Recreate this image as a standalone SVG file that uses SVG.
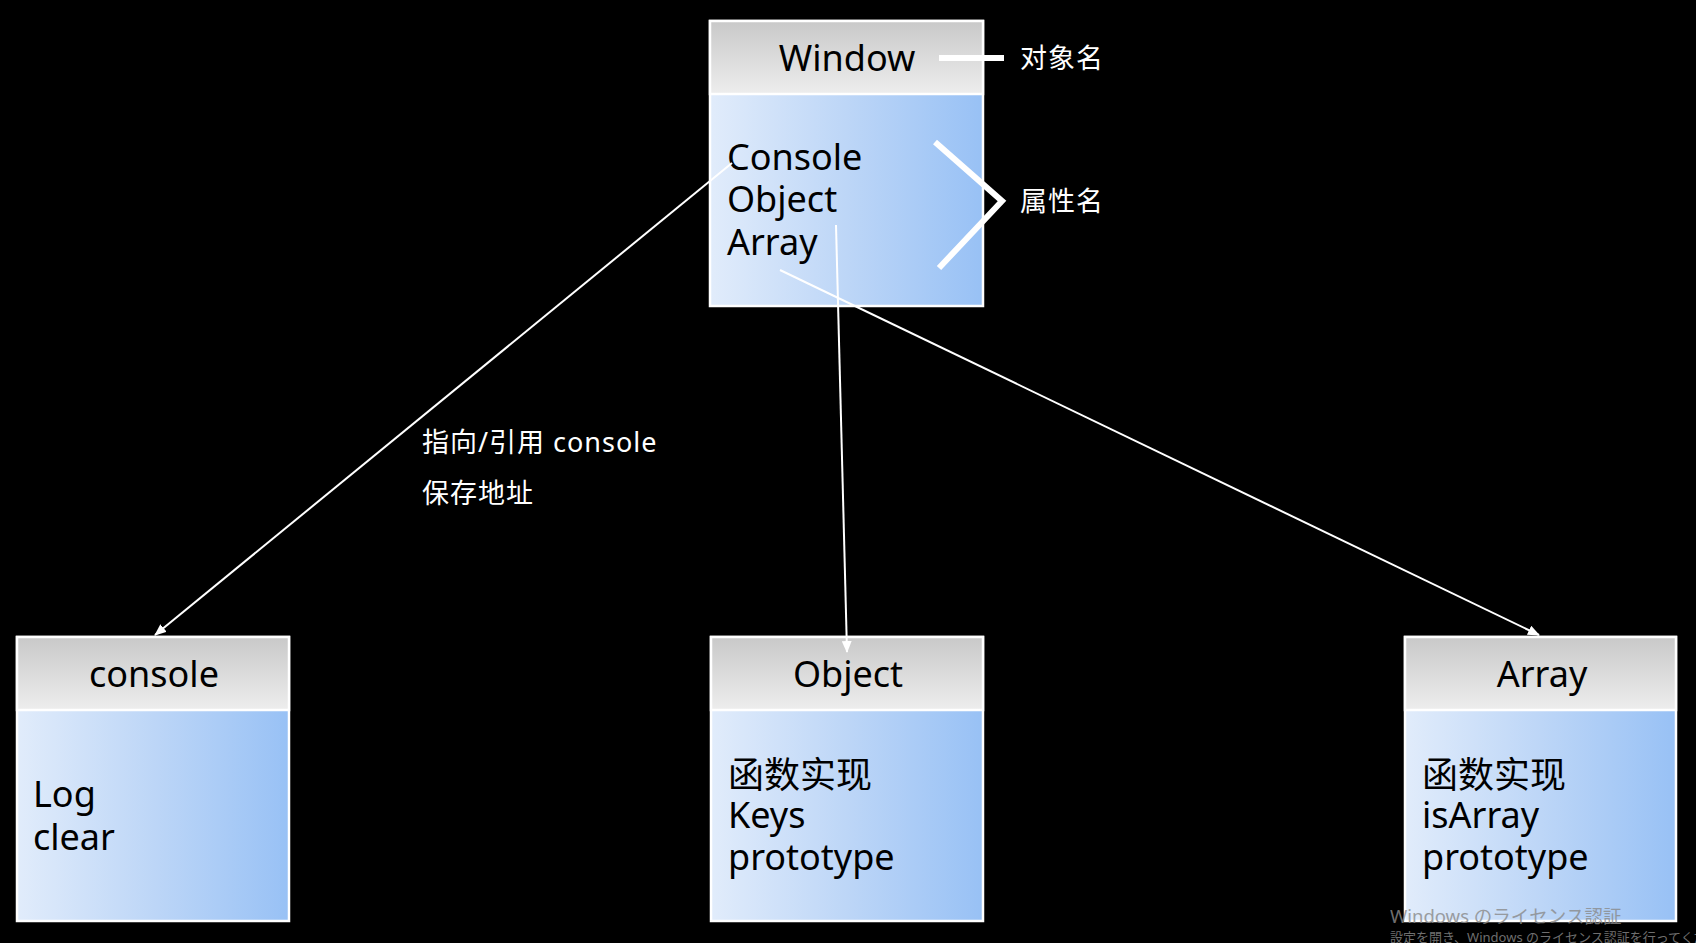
<svg xmlns="http://www.w3.org/2000/svg" width="1696" height="943" viewBox="0 0 1696 943">
<defs>
<linearGradient id="hdr" x1="0" y1="0" x2="0" y2="1"><stop offset="0" stop-color="#c9c9c9"/><stop offset="1" stop-color="#ededed"/></linearGradient>
<linearGradient id="body" x1="0" y1="0" x2="1" y2="0"><stop offset="0" stop-color="#e1ecfb"/><stop offset="0.5" stop-color="#bdd6f7"/><stop offset="1" stop-color="#98c1f5"/></linearGradient>
<marker id="arr" markerWidth="12" markerHeight="10" refX="11" refY="5" orient="auto" markerUnits="userSpaceOnUse"><path d="M0,0 L12,5 L0,10 Z" fill="#fff"/></marker>
<style>
.box{stroke:#fff;stroke-width:2.5}
.t{font-family:"Noto Sans","Open Sans","Noto Sans CJK SC",sans-serif;fill:#000}
.h{font-size:36px}
.b{font-size:36px}
.w{font-family:"Noto Sans","Noto Sans CJK SC",sans-serif;fill:#fff;font-size:27px;letter-spacing:1px}
.c{stroke:#fff;stroke-width:2;fill:none}
.thick{stroke:#fff;stroke-width:6;fill:none}
</style>
</defs>
<rect width="1696" height="943" fill="#000"/>
<g id="window">
<rect class="box" x="710" y="21" width="273" height="285" fill="url(#body)"/>
<rect class="box" x="710" y="21" width="273" height="73" fill="url(#hdr)"/>
<text class="t h" x="847" y="71" text-anchor="middle">Window</text>
<text class="t b" x="727" y="170">Console</text>
<text class="t b" x="727" y="212">Object</text>
<text class="t b" x="727" y="255">Array</text>
</g>
<g id="console">
<rect class="box" x="17" y="637" width="272" height="284" fill="url(#body)"/>
<rect class="box" x="17" y="637" width="272" height="73" fill="url(#hdr)"/>
<text class="t h" x="154" y="687" text-anchor="middle">console</text>
<text class="t b" x="33" y="807">Log</text>
<text class="t b" x="33" y="850">clear</text>
</g>
<g id="object">
<rect class="box" x="711" y="637" width="272" height="284" fill="url(#body)"/>
<rect class="box" x="711" y="637" width="272" height="73" fill="url(#hdr)"/>
<text class="t h" x="848" y="687" text-anchor="middle">Object</text>
<text class="t b" x="728" y="788">函数实现</text>
<text class="t b" x="728" y="828">Keys</text>
<text class="t b" x="728" y="870">prototype</text>
</g>
<g id="array">
<rect class="box" x="1405" y="637" width="271" height="284" fill="url(#body)"/>
<rect class="box" x="1405" y="637" width="271" height="73" fill="url(#hdr)"/>
<text class="t h" x="1542" y="687" text-anchor="middle">Array</text>
<text class="t b" x="1422" y="788">函数实现</text>
<text class="t b" x="1422" y="828">isArray</text>
<text class="t b" x="1422" y="870">prototype</text>
</g>
<g id="connectors">
<line class="c" x1="732" y1="163" x2="155" y2="635" marker-end="url(#arr)"/>
<line class="c" x1="836" y1="225" x2="847" y2="652" marker-end="url(#arr)"/>
<line class="c" x1="780" y1="270" x2="1539" y2="635" marker-end="url(#arr)"/>
<line class="thick" x1="939" y1="58" x2="1004" y2="58"/>
<polyline class="thick" points="935,142 1002,201 939,268"/>
</g>
<g id="labels">
<text class="w" x="1020" y="68">对象名</text>
<text class="w" x="1020" y="211">属性名</text>
<text class="w" x="422" y="452">指向/引用 console</text>
<text class="w" x="422" y="503">保存地址</text>
</g>
<g id="watermark" font-family="Noto Sans, Noto Sans CJK JP, sans-serif" fill="#8a8a8a" opacity="0.8">
<text x="1390" y="923" font-size="18.5">Windows のライセンス認証</text>
<text x="1390" y="942" font-size="13">設定を開き、Windows のライセンス認証を行ってくだ</text>
</g>
</svg>
